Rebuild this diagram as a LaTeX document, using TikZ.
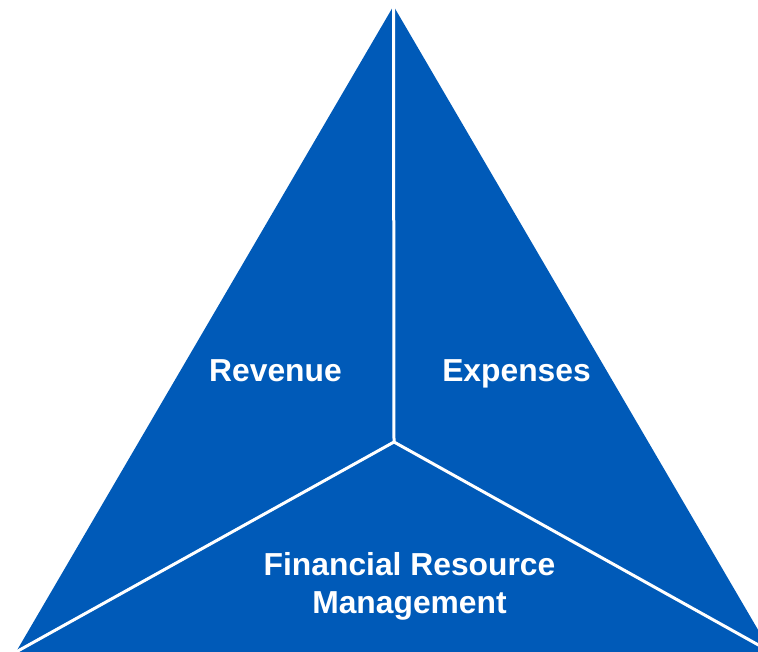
\documentclass[tikz,border=0pt]{standalone}
\usepackage{fontspec}
\setmainfont{Liberation Sans}
\definecolor{triblue}{RGB}{0,90,184}
\begin{document}
\begin{tikzpicture}[x=1pt,y=-1pt,
  sep/.style={draw=white,line width=3pt},
  lbl/.style={text=white,font=\fontsize{31.8}{38}\selectfont\bfseries,anchor=base,inner sep=0pt,align=center}]
\useasboundingbox (0,0) rectangle (758,652);
\clip (0,0) rectangle (758,652);
\coordinate (apex) at (393.5,6);
\coordinate (bl) at (16,652);
\coordinate (br) at (771,652);
\coordinate (c) at (394,442);
\fill[triblue] (apex) -- (bl) -- (br) -- cycle;
\draw[sep] (apex) -- (c);
\draw[sep] (c) -- (bl);
\draw[sep] (c) -- (br);
\node[lbl] (rev) at (275.5,381.5) {Revenue};
\node[lbl] (exp) at (516.5,381.5) {Expenses};
\node[lbl] (frm1) at (409.5,575.5) {Financial Resource};
\node[lbl] (frm2) at (409.5,613.5) {Management};
\end{tikzpicture}
\end{document}
